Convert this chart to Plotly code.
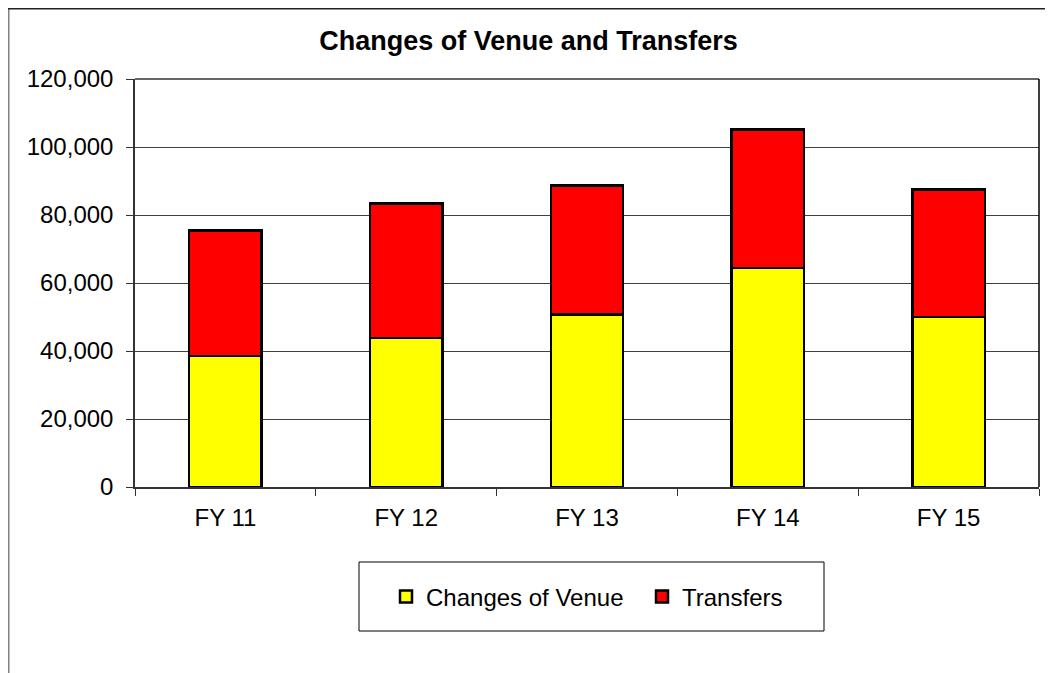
import plotly.graph_objects as go

categories = ["FY 11", "FY 12", "FY 13", "FY 14", "FY 15"]
changes_of_venue = [38600, 43800, 50700, 64400, 50000]
transfers = [36900, 39600, 38000, 40800, 37500]
y_ticks = [0, 20000, 40000, 60000, 80000, 100000, 120000]
y_tick_labels = ["0", "20,000", "40,000", "60,000", "80,000", "100,000", "120,000"]

font_family = "Liberation Sans, Arial, sans-serif"

fig = go.Figure()
fig.add_trace(go.Bar(
    x=categories, y=changes_of_venue, name="Changes of Venue",
    marker=dict(color="#FFFF00", line=dict(color="#000000", width=2.5)),
    width=0.4,
))
fig.add_trace(go.Bar(
    x=categories, y=transfers, name="Transfers",
    marker=dict(color="#FF0000", line=dict(color="#000000", width=2.5)),
    width=0.4,
))

OFF = 8  # page body offset
W, H = 1045, 665
ml, mt = 135 - OFF, 79 - OFF
mr = W - (1039 - OFF)
mb = H - (487 - OFF)

def px_x(p):
    return (p - OFF - ml) / (W - ml - mr)

def px_y(p):
    return (H - mb - (p - OFF)) / (H - mt - mb)

fig.update_layout(
    barmode="stack",
    width=W, height=H,
    margin=dict(l=ml, r=mr, t=mt, b=mb),
    paper_bgcolor="white", plot_bgcolor="white",
    font=dict(family=font_family, size=24, color="black"),
    title=dict(text="<b>Changes of Venue and Transfers</b>",
               x=(528.5 - OFF) / W, xanchor="center", xref="container",
               y=1 - (41 - OFF) / H, yanchor="middle", yref="container",
               font=dict(size=27, family=font_family)),
    showlegend=True,
    legend=dict(orientation="h", x=px_x(642), xanchor="center", y=px_y(597), yanchor="middle",
                bgcolor="rgba(0,0,0,0)", borderwidth=0, font=dict(size=24),
                entrywidth=211, traceorder="normal"),
    bargap=0.6,
)
fig.update_xaxes(
    showline=True, linecolor="#333333", linewidth=1.5,
    ticks="outside", ticklen=7, tickcolor="#333333", tickson="boundaries",
    ticklabelstandoff=8,
    showgrid=False, mirror=False,
)
fig.update_yaxes(
    range=[0, 120000], tickvals=y_ticks, ticktext=y_tick_labels,
    showline=True, linecolor="#333333", linewidth=1.5,
    ticks="outside", ticklen=7, tickcolor="#333333",
    ticklabelstandoff=8,
    showgrid=True, gridcolor="#404040", gridwidth=1, zeroline=False,
)
# plot area top and right edges
fig.add_shape(type="line", xref="paper", yref="paper", x0=0, x1=1, y0=1, y1=1,
              line=dict(color="#333333", width=1.5))
fig.add_shape(type="line", xref="paper", yref="paper", x0=1, x1=1, y0=0, y1=1,
              line=dict(color="#000000", width=1.5))
# legend box
fig.add_shape(type="rect", xref="paper", yref="paper",
              x0=px_x(359), x1=px_x(824), y0=px_y(631), y1=px_y(562),
              line=dict(color="#000000", width=1))
# chart frame (left and top)
fig.add_shape(type="line", xref="paper", yref="paper",
              x0=px_x(OFF + 0.5), x1=px_x(OFF + 0.5), y0=px_y(700), y1=px_y(OFF),
              line=dict(color="#808080", width=2))
fig.add_shape(type="line", xref="paper", yref="paper",
              x0=px_x(OFF), x1=px_x(1100), y0=px_y(OFF + 0.5), y1=px_y(OFF + 0.5),
              line=dict(color="#222222", width=2))

fig.write_html("out.html")
